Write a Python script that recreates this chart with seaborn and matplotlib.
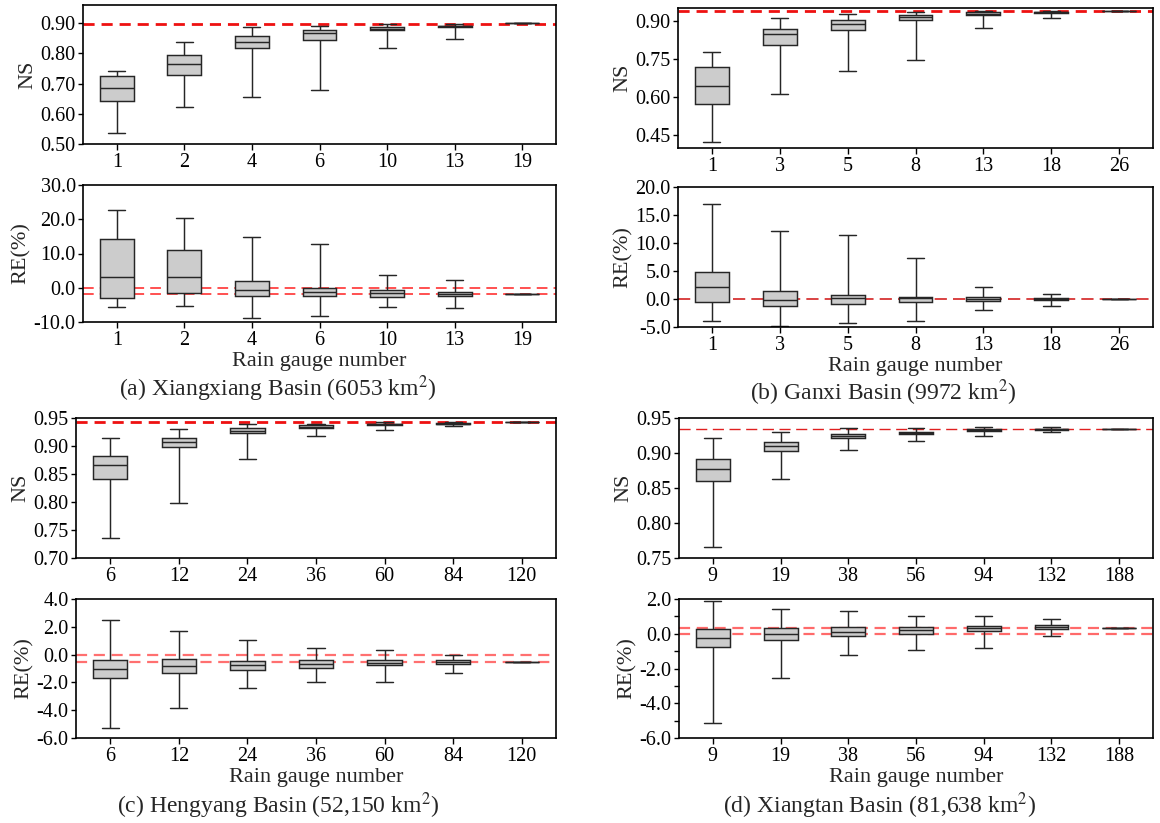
import numpy as np
import pandas as pd
import matplotlib
matplotlib.use("Agg")
import matplotlib.pyplot as plt
import seaborn as sns
from matplotlib.ticker import FormatStrFormatter, MultipleLocator

# ---------------- data: each box = [lower whisker, Q1, median, Q3, upper whisker]
a_gauges = ["1", "2", "4", "6", "10", "13", "19"]
a_ns = [[0.536, 0.642, 0.685, 0.725, 0.742],
        [0.623, 0.727, 0.766, 0.796, 0.838],
        [0.656, 0.819, 0.838, 0.858, 0.887],
        [0.680, 0.844, 0.866, 0.876, 0.891],
        [0.818, 0.877, 0.882, 0.887, 0.898],
        [0.848, 0.886, 0.889, 0.892, 0.898],
        [0.899, 0.899, 0.899, 0.899, 0.899]]
a_re = [[-5.5, -3.0, 3.1, 14.2, 22.8],
        [-5.2, -1.6, 3.0, 10.9, 20.4],
        [-8.7, -2.5, -0.8, 2.1, 14.7],
        [-8.2, -2.5, -1.3, 0.0, 12.7],
        [-5.6, -2.7, -1.6, -0.8, 3.6],
        [-6.0, -2.5, -1.7, -1.1, 2.2],
        [-1.8, -1.8, -1.8, -1.8, -1.8]]
a_ns_ref = [0.898]
a_re_ref = [0.0, -1.7]

b_gauges = ["1", "3", "5", "8", "13", "18", "26"]
b_ns = [[0.425, 0.574, 0.643, 0.720, 0.779],
        [0.611, 0.803, 0.846, 0.867, 0.909],
        [0.701, 0.863, 0.888, 0.901, 0.928],
        [0.746, 0.904, 0.914, 0.922, 0.933],
        [0.871, 0.924, 0.928, 0.933, 0.937],
        [0.909, 0.930, 0.933, 0.936, 0.939],
        [0.939, 0.939, 0.939, 0.939, 0.939]]
b_re = [[-3.9, -0.6, 2.1, 4.9, 17.0],
        [-4.8, -1.3, -0.2, 1.5, 12.2],
        [-4.3, -0.9, 0.1, 0.7, 11.4],
        [-4.0, -0.6, 0.1, 0.4, 7.3],
        [-2.0, -0.4, 0.0, 0.3, 2.2],
        [-1.2, -0.2, 0.0, 0.2, 0.9],
        [0.0, 0.0, 0.0, 0.0, 0.0]]
b_ns_ref = [0.939]
b_re_ref = [0.0]

c_gauges = ["6", "12", "24", "36", "60", "84", "120"]
c_ns = [[0.735, 0.841, 0.866, 0.882, 0.914],
        [0.799, 0.898, 0.908, 0.914, 0.931],
        [0.877, 0.923, 0.927, 0.932, 0.940],
        [0.918, 0.932, 0.934, 0.937, 0.940],
        [0.928, 0.937, 0.939, 0.940, 0.943],
        [0.935, 0.939, 0.940, 0.941, 0.943],
        [0.942, 0.942, 0.942, 0.942, 0.942]]
c_re = [[-5.26, -1.65, -1.05, -0.40, 2.47],
        [-3.82, -1.31, -0.81, -0.33, 1.73],
        [-2.41, -1.14, -0.78, -0.43, 1.03],
        [-1.96, -0.98, -0.67, -0.40, 0.44],
        [-1.96, -0.78, -0.59, -0.40, 0.32],
        [-1.29, -0.67, -0.50, -0.40, 0.00],
        [-0.50, -0.50, -0.50, -0.50, -0.50]]
c_ns_ref = [0.942]
c_re_ref = [0.0, -0.5]

d_gauges = ["9", "19", "38", "56", "94", "132", "188"]
d_ns = [[0.766, 0.860, 0.877, 0.891, 0.921],
        [0.863, 0.903, 0.910, 0.916, 0.930],
        [0.905, 0.921, 0.924, 0.927, 0.936],
        [0.917, 0.927, 0.929, 0.930, 0.936],
        [0.925, 0.931, 0.933, 0.934, 0.937],
        [0.930, 0.933, 0.934, 0.935, 0.937],
        [0.934, 0.934, 0.934, 0.934, 0.934]]
d_re = [[-5.16, -0.78, -0.22, 0.26, 1.90],
        [-2.52, -0.35, -0.01, 0.32, 1.43],
        [-1.25, -0.14, 0.12, 0.39, 1.33],
        [-0.91, -0.01, 0.22, 0.41, 1.02],
        [-0.83, 0.18, 0.33, 0.47, 1.04],
        [-0.14, 0.30, 0.41, 0.49, 0.83],
        [0.35, 0.35, 0.35, 0.35, 0.35]]
d_ns_ref = [0.934]
d_re_ref = [0.35, 0.0]

captions = ["(a) Xiangxiang Basin (6053 km$^{2}$)",
            "(b) Ganxi Basin (9972 km$^{2}$)",
            "(c) Hengyang Basin (52,150 km$^{2}$)",
            "(d) Xiangtan Basin (81,638 km$^{2}$)"]

# ---------------- style
sns.set_theme(style="ticks")
plt.rcParams["font.family"] = ["Liberation Serif", "DejaVu Serif"]
plt.rcParams["mathtext.fontset"] = "stix"
plt.rcParams["axes.linewidth"] = 1.2
plt.rcParams["xtick.major.size"] = 4.2
plt.rcParams["ytick.major.size"] = 3.8
plt.rcParams["xtick.major.width"] = 1.0
plt.rcParams["ytick.major.width"] = 1.0
plt.rcParams["xtick.labelsize"] = 14.5
plt.rcParams["ytick.labelsize"] = 14.5
plt.rcParams["xtick.major.pad"] = 2.5
plt.rcParams["ytick.major.pad"] = 1.5
plt.rcParams["axes.edgecolor"] = "black"
plt.rcParams["xtick.color"] = "black"
plt.rcParams["ytick.color"] = "black"

W, H = 1160, 823
fig = plt.figure(figsize=(W / 100, H / 100), dpi=100)


def rect(l, r, t, b):
    return [l / W, 1 - b / H, (r - l) / W, (b - t) / H]


def to_frame(gauges, boxes):
    rows = []
    for g, vals in zip(gauges, boxes):
        for v in vals:
            rows.append((g, v))
    return pd.DataFrame(rows, columns=["gauge", "value"])


def draw(ax, gauges, boxes, refs, ref_style, ylim, ticks, fmt, ylabel,
         xlabel=None, minor=None):
    df = to_frame(gauges, boxes)
    for r in refs:
        ax.axhline(r, zorder=1, **ref_style)
    sns.boxplot(data=df, x="gauge", y="value", order=gauges, ax=ax,
                whis=(0, 100), width=0.5, color="#cccccc", saturation=1,
                linecolor="#262626", linewidth=1.05, fliersize=0)
    ax.set_xlim(-0.5, 6.5)
    ax.set_ylim(*ylim)
    ax.set_yticks(ticks)
    ax.yaxis.set_major_formatter(FormatStrFormatter(fmt))
    if minor is not None:
        ax.yaxis.set_minor_locator(MultipleLocator(minor))
        ax.tick_params(axis="y", which="minor", length=3.8, width=1.0)
    ax.set_ylabel(ylabel, fontsize=16, labelpad=2)
    if xlabel:
        ax.set_xlabel(xlabel, fontsize=16, labelpad=1)
    else:
        ax.set_xlabel("")
    for s in ax.spines.values():
        s.set_visible(True)
        s.set_linewidth(1.2)


ns_bold = dict(color="#ee1111", lw=2.0, ls=(0, (4, 2.5)))

# (a)
ax = fig.add_axes(rect(83, 556, 5, 144))
draw(ax, a_gauges, a_ns, a_ns_ref, ns_bold, (0.50, 0.96),
     [0.5, 0.6, 0.7, 0.8, 0.9], "%.2f", "NS")
ax = fig.add_axes(rect(83, 556, 185, 322))
draw(ax, a_gauges, a_re, a_re_ref, dict(color="#ff2020", lw=1.1, ls=(0, (7, 4))),
     (-10, 30), [-10, 0, 10, 20, 30], "%.1f", "RE(%)", "Rain gauge number")

# (b)
ax = fig.add_axes(rect(678, 1153, 8, 148))
draw(ax, b_gauges, b_ns, b_ns_ref, ns_bold, (0.40, 0.95),
     [0.45, 0.60, 0.75, 0.90], "%.2f", "NS")
ax = fig.add_axes(rect(678, 1153, 187, 327))
draw(ax, b_gauges, b_re, b_re_ref, dict(color="#d01010", lw=1.1, ls=(0, (8, 4))),
     (-5, 20), [-5, 0, 5, 10, 15, 20], "%.1f", "RE(%)", "Rain gauge number")

# (c)
ax = fig.add_axes(rect(76, 556, 418, 558))
draw(ax, c_gauges, c_ns, c_ns_ref, ns_bold, (0.70, 0.95),
     [0.70, 0.75, 0.80, 0.85, 0.90, 0.95], "%.2f", "NS")
ax = fig.add_axes(rect(76, 556, 599, 738))
draw(ax, c_gauges, c_re, c_re_ref, dict(color="#ff7070", lw=1.6, ls=(0, (5, 3))),
     (-6, 4), [-6, -4, -2, 0, 2, 4], "%.1f", "RE(%)", "Rain gauge number")

# (d)
ax = fig.add_axes(rect(679, 1153, 418, 558))
draw(ax, d_gauges, d_ns, d_ns_ref, dict(color="#e02020", lw=1.0, ls=(0, (8, 4))),
     (0.75, 0.95), [0.75, 0.80, 0.85, 0.90, 0.95], "%.2f", "NS")
ax = fig.add_axes(rect(679, 1153, 599, 738))
draw(ax, d_gauges, d_re, d_re_ref, dict(color="#ff6a6a", lw=1.6, ls=(0, (5, 3))),
     (-6, 2), [-6, -4, -2, 0, 2], "%.1f", "RE(%)", "Rain gauge number", minor=1)

# captions
cap_pos = [(278, 389), (883, 393), (278, 806), (880, 806)]
for txt, (x, y) in zip(captions, cap_pos):
    fig.text(x / W, 1 - y / H, txt, ha="center", va="center", fontsize=17)

fig.savefig("out.png", dpi=100)
